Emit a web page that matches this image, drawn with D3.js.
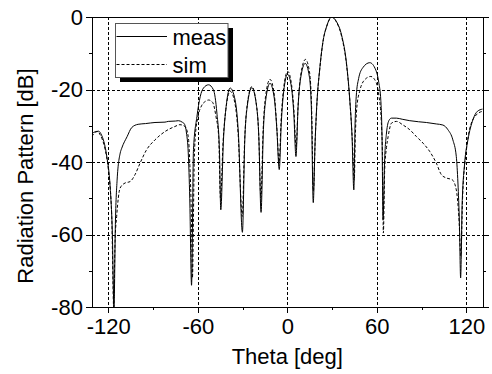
<!DOCTYPE html>
<html>
<head>
<meta charset="utf-8">
<script src="https://cdn.jsdelivr.net/npm/d3@7"></script>
<style>
  body { margin: 0; background: #fff; }
  svg { display: block; font-family: Arial, "Liberation Sans", sans-serif; }
  .axis path, .axis line { stroke: #000; shape-rendering: crispEdges; }
  .axis text { font-size: 22px; fill: #000; font-family: Arial, "Liberation Sans", sans-serif; }
  .grid line { stroke: #000; stroke-dasharray: 3,2; shape-rendering: crispEdges; }
</style>
</head>
<body>
<div id="container"></div>
<script>
/* CONSTANTS AND GLOBALS */
const width = 492,
      height = 374,
      plotLeft = 91.9,
      plotRight = 482.7,
      plotTop = 17,
      plotBottom = 307,
      fontSize = 22;

/* DATA */
const xTicks = [-120, -60, 0, 60, 120];
const xMinor = [-90, -30, 30, 90];
const yTicks = [0, -20, -40, -60, -80];
const yMinor = [-10, -30, -50, -70];
const seriesNames = ["meas", "sim"];

// measured pattern: theta [deg], level [dB]
const measTheta = [
  -131, -128.5, -126.5, -124.5, -123.3, -121, -118.8, -117.3, -116.2, -115.2,
  -114.1, -112, -111, -107.4, -104.3, -100, -95, -88.7, -82, -79.8,
  -75, -73, -70.5, -69, -67.6, -66.4, -65.4, -64.2,
  -62.9, -60.6, -58.4, -56.2, -52.8, -49.5, -47.2, -45.5, -44.6,
  -42.8, -41, -38.3, -35, -32.8, -30.1,
  -28.5, -26.8, -23.8, -20.8, -19.1, -17.6,
  -16.1, -14.5, -11.6, -8.7, -7, -5.4,
  -4, -2.4, 0.2, 2.8, 4.4, 5.8,
  7.2, 8.9, 12, 14.8, 16.2, 17.4,
  18.6, 19.6, 21.9, 24.1, 26.3, 29.7, 33, 36.4, 39.7, 41.9, 43.4, 44.6,
  45.4, 46.2, 47.8, 50.6, 55.3, 59.3, 61.3, 62.7, 63.5, 64.2,
  65.2, 66.5, 68.2, 69.8, 73.1, 77, 82.1, 88, 93.2, 99.9,
  104.3, 107.7, 111, 113.3, 114.4, 115.4, 116.2, 117.2, 118.9, 121.1,
  124.4, 127.5, 131
];
const measDb = [
  -32.2, -31.6, -31.5, -32.6, -33.9, -38.5, -46.7, -59.5, -80, -56,
  -45, -37.5, -36.2, -33, -30.5, -29.6, -29.4, -29.1, -29, -28.8,
  -28.7, -28.6, -29, -29.5, -32, -37.5, -50, -74,
  -36.6, -27.5, -22, -19.6, -18.7, -20.1, -26.5, -36.6, -53.2,
  -33.9, -24.7, -19.6, -22.9, -32, -59.4,
  -34, -24.5, -19.5, -24, -33, -53.9,
  -32, -23, -18.3, -22.5, -31, -42.1,
  -29, -20.5, -15.8, -19.5, -27, -38.5,
  -25, -17, -12.8, -16.5, -26, -51.2,
  -35, -25.6, -13.7, -6.3, -2.7, 0, -1.3, -5, -12.8, -22.9, -33, -47.7,
  -30, -22, -17, -14, -12.6, -14.6, -18, -23, -33, -55.9,
  -40, -32, -28.5, -27.9, -27.9, -28.2, -28.6, -28.9, -29.1, -29.5,
  -29.8, -31.1, -33.9, -38.5, -45.8, -57, -72, -52, -40.3, -33.9,
  -28.4, -26, -25.4
];

// simulated pattern: theta [deg], level [dB]
const simTheta = [
  -131, -128.8, -127, -125.5, -122.1, -120, -117.7, -116.4, -115.5, -114.4,
  -112.1, -108.8, -105.4, -102.1, -98.7, -94.3, -88.7, -82, -75.3, -72,
  -68.6, -66.4, -65.3, -64.3, -63.6,
  -62.4, -61.7, -59.6, -57.5, -55, -52.8, -50, -47.8, -46, -44.8,
  -43, -41.2, -38.3, -35.2, -33, -30.2,
  -28.6, -26.9, -23.8, -20.9, -19.2, -17.7,
  -16.2, -14.6, -11.6, -8.7, -7.1, -5.5,
  -4.1, -2.5, 0.3, 2.9, 4.5, 5.9,
  7.3, 9, 12.2, 15, 16.3, 17.5,
  18.7, 19.7, 22, 24.2, 26.4, 29.8, 33.1, 36.5, 39.8, 42, 43.6, 44.9,
  45.6, 46.6, 48.5, 51.5, 56, 59.5, 61.5, 62.9, 63.8, 64.4,
  65.3, 66.5, 67.6, 69.8, 73.2, 77.6, 82.1, 86.6, 91, 95.5,
  99.9, 103.3, 106.6, 110.6, 113.3, 115, 116.4, 117.5, 120, 122.2,
  126.7, 131
];
const simDb = [
  -33, -31.8, -31.6, -32.5, -36.6, -42, -55, -80, -62, -55,
  -47.2, -45.8, -45.4, -43.5, -40.3, -36.6, -33.9, -31.6, -30.2, -29.7,
  -30.2, -33, -41, -55, -72,
  -40, -33, -27, -24.5, -23.3, -22.9, -23.6, -27.5, -33, -50,
  -34, -25.5, -20.5, -23.6, -32, -55,
  -34, -24.3, -19.2, -23.6, -32, -50,
  -31, -22, -17.2, -21.5, -30, -40,
  -28, -19.8, -15, -18.8, -26, -36,
  -24, -16, -11.7, -15.5, -25, -48,
  -34, -25, -13.4, -6.2, -2.6, -0.1, -1.5, -5.5, -13.5, -23.5, -34, -45,
  -33, -25, -20.5, -17.5, -16.4, -18, -22, -28, -38, -59.6,
  -42, -36, -33, -29.3, -28.8, -29.8, -31.1, -33, -34.8, -37.1,
  -40.3, -43.5, -44.4, -44.9, -47.7, -55, -66, -50, -37, -31,
  -27, -26
];

const series = [
  { name: seriesNames[0], dash: null, values: measTheta.map((t, i) => ({ t, v: measDb[i] })) },
  { name: seriesNames[1], dash: "3,2", values: simTheta.map((t, i) => ({ t, v: simDb[i] })) }
];

/* SCALES */
const xScale = d3.scaleLinear().domain([-131, 131]).range([plotLeft, plotRight]);
const yScale = d3.scaleLinear().domain([-80, 0]).range([plotBottom, plotTop]);

/* SVG */
const svg = d3.select("#container")
  .append("svg")
  .attr("width", width)
  .attr("height", height);

svg.append("defs").append("clipPath")
  .attr("id", "plot-clip")
  .append("rect")
  .attr("x", plotLeft).attr("y", plotTop)
  .attr("width", plotRight - plotLeft).attr("height", plotBottom - plotTop);

// grid
const grid = svg.append("g").attr("class", "grid");
grid.selectAll(".gx")
  .data(xTicks)
  .join("line")
  .attr("class", "gx")
  .attr("x1", d => Math.round(xScale(d)) + 0.5)
  .attr("x2", d => Math.round(xScale(d)) + 0.5)
  .attr("y1", plotTop)
  .attr("y2", plotBottom);
grid.selectAll(".gy")
  .data(yTicks.filter(d => d !== 0 && d !== -80))
  .join("line")
  .attr("class", "gy")
  .attr("x1", plotLeft)
  .attr("x2", plotRight)
  .attr("y1", d => Math.round(yScale(d)) + 0.5)
  .attr("y2", d => Math.round(yScale(d)) + 0.5);

// curves
const line = d3.line()
  .x(d => xScale(d.t))
  .y(d => yScale(d.v))
  .curve(d3.curveMonotoneX);

svg.append("g")
  .attr("clip-path", "url(#plot-clip)")
  .selectAll("path")
  .data(series)
  .join("path")
  .attr("d", d => line(d.values))
  .attr("fill", "none")
  .attr("stroke", "#000")
  .attr("stroke-width", 1)
  .attr("stroke-dasharray", d => d.dash);

/* AXES */
const tickFmt = d => String(d);

svg.append("g")
  .attr("class", "axis")
  .attr("transform", `translate(0, ${plotBottom})`)
  .call(d3.axisBottom(xScale).tickValues(xTicks).tickSize(6).tickSizeOuter(0).tickPadding(5).tickFormat(tickFmt));
svg.append("g")
  .attr("class", "axis")
  .attr("transform", `translate(0, ${plotBottom})`)
  .call(d3.axisBottom(xScale).tickValues(xMinor).tickSize(3).tickSizeOuter(0).tickFormat(""));

svg.append("g")
  .attr("class", "axis")
  .attr("transform", `translate(${plotLeft}, 0)`)
  .call(d3.axisLeft(yScale).tickValues(yTicks).tickSize(6).tickSizeOuter(0).tickPadding(3).tickFormat(tickFmt));
svg.append("g")
  .attr("class", "axis")
  .attr("transform", `translate(${plotLeft}, 0)`)
  .call(d3.axisLeft(yScale).tickValues(yMinor).tickSize(3).tickSizeOuter(0).tickFormat(""));

svg.append("g")
  .attr("class", "axis")
  .attr("transform", `translate(${plotRight}, 0)`)
  .call(d3.axisRight(yScale).tickValues(yTicks).tickSize(6).tickSizeOuter(0).tickFormat(""));
svg.append("g")
  .attr("class", "axis")
  .attr("transform", `translate(${plotRight}, 0)`)
  .call(d3.axisRight(yScale).tickValues(yMinor).tickSize(3).tickSizeOuter(0).tickFormat(""));

// top frame line
svg.append("line")
  .attr("x1", plotLeft).attr("x2", plotRight)
  .attr("y1", plotTop + 0.5).attr("y2", plotTop + 0.5)
  .attr("stroke", "#000")
  .attr("shape-rendering", "crispEdges");

// axis titles
svg.append("text")
  .attr("x", (plotLeft + plotRight) / 2)
  .attr("y", 364)
  .attr("text-anchor", "middle")
  .attr("font-size", fontSize)
  .text("Theta [deg]");

svg.append("text")
  .attr("transform", "translate(33, 176) rotate(-90)")
  .attr("text-anchor", "middle")
  .attr("font-size", fontSize)
  .text("Radiation Pattern [dB]");

/* LEGEND */
const legend = svg.append("g");
legend.append("rect")
  .attr("x", 120).attr("y", 28)
  .attr("width", 113).attr("height", 54)
  .attr("fill", "#000");
legend.append("rect")
  .attr("x", 115.5).attr("y", 23.5)
  .attr("width", 112.5).attr("height", 54)
  .attr("fill", "#fff")
  .attr("stroke", "#555");

const items = legend.selectAll(".item")
  .data(series)
  .join("g")
  .attr("class", "item")
  .attr("transform", (d, i) => `translate(0, ${36.5 + i * 28})`);
items.append("line")
  .attr("x1", 116.5).attr("x2", 167)
  .attr("stroke", "#000")
  .attr("stroke-dasharray", d => d.dash);
items.append("text")
  .attr("x", 172.5)
  .attr("y", 8)
  .attr("font-size", fontSize)
  .text(d => d.name);
</script>
</body>
</html>
